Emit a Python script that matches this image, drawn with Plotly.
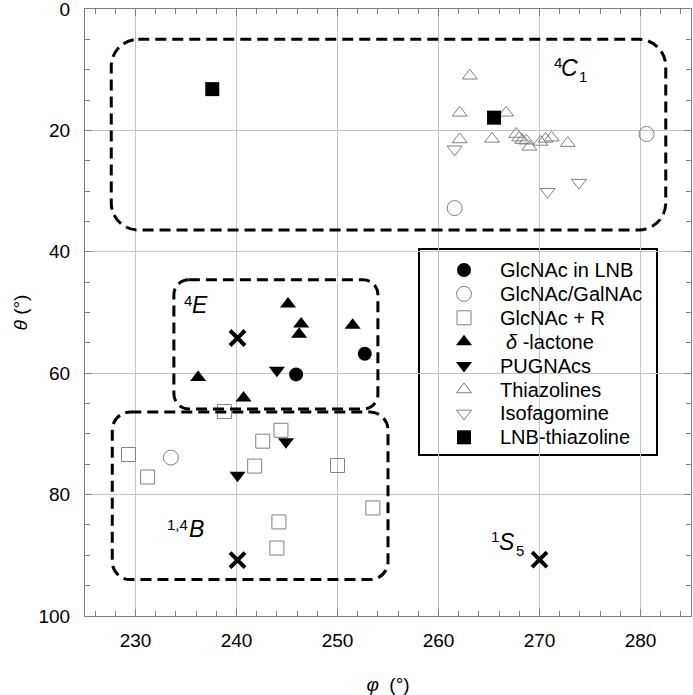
import plotly.graph_objects as go

# ---------------- data (phi, theta in degrees) ----------------
series_names = ["GlcNAc in LNB", "GlcNAc/GalNAc", "GlcNAc + R", "<i>δ</i> -lactone",
                "PUGNAcs", "Thiazolines", "Isofagomine", "LNB-thiazoline"]

lnb_phi = [245.9, 252.7]
lnb_theta = [60.2, 56.8]

glc_gal_phi = [280.6, 261.6, 233.5]
glc_gal_theta = [20.6, 32.8, 73.9]

glc_r_phi = [238.8, 244.4, 242.6, 229.3, 241.8, 250.0, 231.2, 244.2, 244.0, 253.5]
glc_r_theta = [66.3, 69.4, 71.2, 73.4, 75.3, 75.2, 77.1, 84.5, 88.8, 82.2]

lactone_phi = [245.1, 246.4, 246.2, 251.5, 236.2, 240.7]
lactone_theta = [48.6, 51.9, 53.6, 52.1, 60.7, 64.1]

pugnac_phi = [244.0, 244.9, 240.1]
pugnac_theta = [59.5, 71.3, 76.8]

thiaz_phi = [263.1, 262.1, 266.7, 262.1, 265.3, 267.7, 268.0, 268.3, 268.7, 269.0,
             270.1, 270.6, 271.2, 272.8]
thiaz_theta = [11.0, 17.1, 17.1, 21.5, 21.4, 20.6, 21.2, 21.6, 21.7, 22.7,
               21.9, 21.4, 21.2, 22.1]

isofag_phi = [261.6, 270.8, 273.9]
isofag_theta = [23.1, 30.1, 28.6]

lnbthz_phi = [237.6, 265.5]
lnbthz_theta = [13.2, 17.9]

canon_phi = [240.1, 240.1, 270.0]
canon_theta = [54.2, 90.8, 90.7]

tick_x = [230, 240, 250, 260, 270, 280]
tick_y = [0, 20, 40, 60, 80, 100]

# conformation labels: superscript, main (italic) letter, subscript
region_sup = ["4", "4", "1,4", "1"]
region_main = ["C", "E", "B", "S"]
region_sub = ["1", "", "", "5"]
region_label_phi = [273.0, 236.4, 236.0, 266.8]
region_label_theta = [9.7, 48.8, 85.7, 87.8]

box_phi0 = [227.6, 233.8, 227.7]
box_phi1 = [282.5, 254.0, 255.0]
box_theta0 = [5.0, 44.6, 66.4]
box_theta1 = [36.4, 65.9, 94.0]
box_radius_px = [27, 15, 18]

# ---------------- styles ----------------
GRAY = "#808080"
FONT = "Liberation Sans"
W, H = 693, 695
ML, MR, MT, MB = 85, 2, 9, 79
PW, PH = W - ML - MR, H - MT - MB
XR = (225, 285)
YR = (100, 0)
PX_X = PW / (XR[1] - XR[0])
PX_Y = PH / (YR[0] - YR[1])

series_data = [
    (lnb_phi, lnb_theta), (glc_gal_phi, glc_gal_theta), (glc_r_phi, glc_r_theta),
    (lactone_phi, lactone_theta), (pugnac_phi, pugnac_theta), (thiaz_phi, thiaz_theta),
    (isofag_phi, isofag_theta), (lnbthz_phi, lnbthz_theta)]
series_markers = [
    dict(symbol="circle", size=14, color="black", line=dict(width=0)),
    dict(symbol="circle-open", size=15, color=GRAY, line=dict(color=GRAY, width=1)),
    dict(symbol="square-open", size=14, color=GRAY, line=dict(color=GRAY, width=1)),
    dict(symbol="triangle-up", size=14, color="black", line=dict(width=0)),
    dict(symbol="triangle-down", size=14, color="black", line=dict(width=0)),
    dict(symbol="triangle-up-open", size=13, color=GRAY, line=dict(color=GRAY, width=1)),
    dict(symbol="triangle-down-open", size=13, color=GRAY, line=dict(color=GRAY, width=1)),
    dict(symbol="square", size=14, color="black", line=dict(width=0)),
]

fig = go.Figure()

for (phi, theta), name, mk in zip(series_data, series_names, series_markers):
    fig.add_trace(go.Scatter(x=phi, y=theta, mode="markers", name=name,
                             marker=mk, showlegend=False))

fig.add_trace(go.Scatter(
    x=canon_phi, y=canon_theta, mode="markers", showlegend=False, name="canonical",
    marker=dict(symbol="x-thin", size=15, color="black",
                line=dict(color="black", width=4))))

# ---------------- legend (boxed key on an overlay paper-like axis) ----------------
LEG_LEFT, LEG_RIGHT, LEG_TOP, LEG_BOTTOM = 419, 657, 249, 455
LEG_SYM_X, LEG_TXT_X, LEG_ROW0, LEG_STEP = 464, 498, 270, 23.9


def px2paper_x(px):
    return (px - ML) / PW


def px2paper_y(py):
    return (MT + PH - py) / PH


annotations = []
for i, (name, mk) in enumerate(zip(series_names, series_markers)):
    row = LEG_ROW0 + i * LEG_STEP
    fig.add_trace(go.Scatter(
        x=[px2paper_x(LEG_SYM_X)], y=[px2paper_y(row)], xaxis="x2", yaxis="y2",
        mode="markers", marker=mk, showlegend=False, hoverinfo="skip", name=name))
    annotations.append(dict(
        x=px2paper_x(LEG_TXT_X), y=px2paper_y(row), xref="paper", yref="paper",
        text=name, showarrow=False, xanchor="left", yanchor="middle",
        xshift=6 if "δ" in name else 0,
        font=dict(family=FONT, size=20, color="black")))


def rrect(x0, x1, y0, y1, r):
    rx, ry = r / PX_X, r / PX_Y
    k = 0.5523
    return (f"M{x0+rx},{y0} L{x1-rx},{y0} "
            f"C{x1-rx+k*rx},{y0} {x1},{y0+ry-k*ry} {x1},{y0+ry} "
            f"L{x1},{y1-ry} "
            f"C{x1},{y1-ry+k*ry} {x1-rx+k*rx},{y1} {x1-rx},{y1} "
            f"L{x0+rx},{y1} "
            f"C{x0+rx-k*rx},{y1} {x0},{y1-ry+k*ry} {x0},{y1-ry} "
            f"L{x0},{y0+ry} "
            f"C{x0},{y0+ry-k*ry} {x0+rx-k*rx},{y0} {x0+rx},{y0} Z")


shapes = []
for a, b, c, d, r in zip(box_phi0, box_phi1, box_theta0, box_theta1, box_radius_px):
    shapes.append(dict(type="path", xref="x", yref="y", path=rrect(a, b, c, d, r),
                       line=dict(color="black", width=3, dash="11px,6px")))
shapes.append(dict(type="rect", xref="paper", yref="paper", layer="between",
                   x0=px2paper_x(LEG_LEFT), x1=px2paper_x(LEG_RIGHT),
                   y0=px2paper_y(LEG_BOTTOM), y1=px2paper_y(LEG_TOP),
                   fillcolor="white", line=dict(color="black", width=2)))

for sup, main, sub, x, y in zip(region_sup, region_main, region_sub,
                                region_label_phi, region_label_theta):
    annotations.append(dict(x=x, y=y, xref="x", yref="y", text=main, showarrow=False,
                            font=dict(family=FONT, size=23, color="black", style="italic")))
    annotations.append(dict(x=x, y=y, xref="x", yref="y", text=sup, showarrow=False,
                            xanchor="right", xshift=-6, yshift=5,
                            font=dict(family=FONT, size=15, color="black")))
    if sub:
        annotations.append(dict(x=x, y=y, xref="x", yref="y", text=sub, showarrow=False,
                                xanchor="left", xshift=7, yshift=-9,
                                font=dict(family=FONT, size=15, color="black")))

axis_common = dict(
    showgrid=True, gridcolor="#c4c4c4", gridwidth=1,
    showline=True, linecolor=GRAY, linewidth=1, mirror="allticks",
    ticks="inside", ticklen=7, tickcolor=GRAY, tickwidth=1,
    zeroline=False, automargin=False, ticklabeloverflow="allow",
    tickfont=dict(family=FONT, size=19, color="black"),
)

fig.update_layout(
    width=W, height=H,
    margin=dict(l=ML, r=MR, t=MT, b=MB, autoexpand=False),
    paper_bgcolor="white", plot_bgcolor="white",
    font=dict(family=FONT, color="black"),
    showlegend=False,
    xaxis=dict(range=list(XR), tickvals=tick_x,
               minor=dict(dtick=2, tick0=230, ticks="inside", ticklen=5,
                          tickcolor=GRAY, showgrid=False),
               title=dict(text="<i>φ</i>  (°)", font=dict(family=FONT, size=19), standoff=27),
               ticklabelstandoff=7,
               **axis_common),
    yaxis=dict(range=list(YR), tickvals=tick_y,
               minor=dict(dtick=5, tick0=0, ticks="inside", ticklen=5,
                          tickcolor=GRAY, showgrid=False),
               title=dict(text="<i>θ</i> (°)", font=dict(family=FONT, size=19), standoff=5),
               ticklabelstandoff=10,
               **axis_common),
    xaxis2=dict(overlaying="x", anchor="y2", range=[0, 1], visible=False, fixedrange=True),
    yaxis2=dict(overlaying="y", anchor="x2", range=[0, 1], visible=False, fixedrange=True),
    shapes=shapes,
    annotations=annotations,
)

fig.write_html("out.html", config={"displayModeBar": False},
               post_script="document.body.style.margin='0px';")
